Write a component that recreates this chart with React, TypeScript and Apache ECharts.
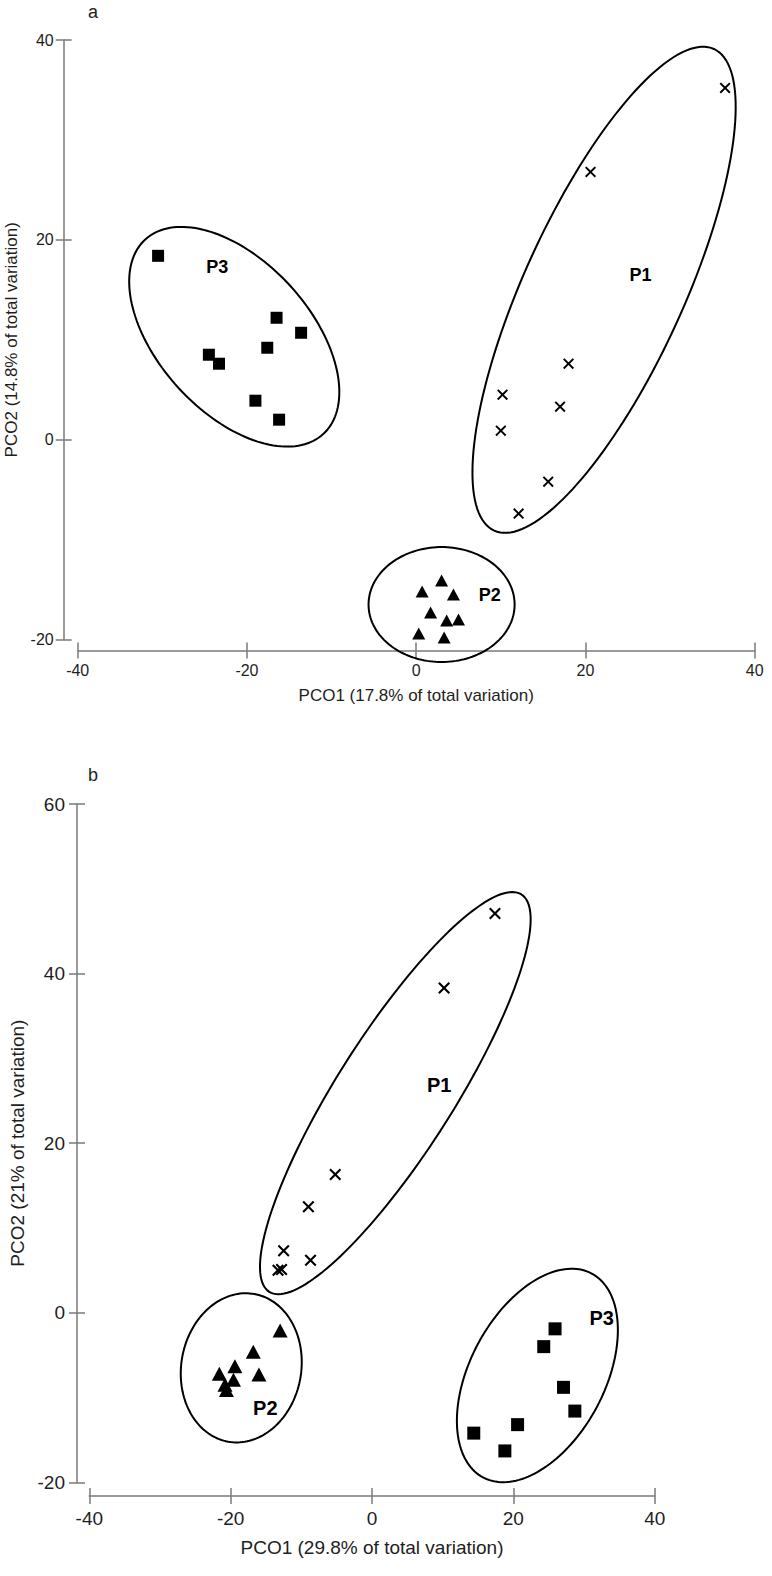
import React, { useEffect, useRef } from "react";
import * as echarts from "echarts";

// ---------- Panel a data ----------
const aCrosses = [[36.5, 35.2], [20.6, 26.8], [18.0, 7.6], [10.2, 4.5], [17.0, 3.3], [10.0, 0.9], [15.6, -4.2], [12.1, -7.4]];
const aTriangles = [[3.0, -14.1], [0.7, -15.2], [4.4, -15.5], [1.7, -17.3], [3.6, -18.1], [5.0, -18.0], [0.3, -19.4], [3.3, -19.8]];
const aSquares = [[-30.5, 18.4], [-16.5, 12.2], [-13.6, 10.7], [-17.6, 9.2], [-24.5, 8.5], [-23.3, 7.6], [-19.0, 3.9], [-16.2, 2.0]];
const groupNames = ["P1", "P2", "P3"];
const aLabelPos = [[26.5, 16.5], [8.7, -15.5], [-23.5, 17.3]];
// ellipse: centre x, centre y, conjugate semi-axis vectors (ux, uy, vx, vy) in data units
const aEllipses = [
  [22.2, 15.0, 12.98, 24.1, 8.57, -3.31],
  [3.0, -16.5, 8.63, 0, 0, -5.75],
  [-21.5, 10.3, 10.51, -9.74, -6.61, -5.1],
];
const aXTicks = [-40, 40, 20];
const aYTicks = [-20, 40, 20];

// ---------- Panel b data ----------
const bCrosses = [[17.4, 47.1], [10.2, 38.3], [-5.2, 16.3], [-9.0, 12.5], [-12.5, 7.3], [-8.7, 6.2], [-13.3, 5.0], [-12.8, 5.1]];
const bTriangles = [[-13.0, -2.1], [-16.8, -4.6], [-19.4, -6.3], [-16.0, -7.3], [-21.6, -7.2], [-19.6, -7.9], [-20.8, -8.5], [-20.6, -9.1]];
const bSquares = [[25.9, -1.9], [24.3, -4.0], [27.1, -8.8], [28.7, -11.6], [20.6, -13.2], [14.4, -14.2], [18.8, -16.3]];
const bLabelPos = [[9.5, 26.9], [-15.1, -11.2], [32.5, -0.6]];
const bEllipses = [
  [3.3, 25.9, 17.84, 23.43, 6.96, -3.68],
  [-18.5, -6.5, 1.84, 8.71, 8.36, -1.23],
  [23.4, -7.4, 7.69, 12.02, 8.4, -3.74],
];
const bXTicks = [-40, 40, 20];
const bYTicks = [-20, 60, 20];

const FONT = "'Liberation Sans', Arial, sans-serif";
const AXIS_COLOR = "#7a7a7a";
const TEXT_COLOR = "#1e1e1e";
const CROSS = "path://M1.5,0L6,4.5L10.5,0L12,1.5L7.5,6L12,10.5L10.5,12L6,7.5L1.5,12L0,10.5L4.5,6L0,1.5Z";

function axisPair(dim: "x" | "y", gridIndex: number, ticks: number[], offset: number, fontSize: number, margin: number, name: string, nameGap: number, nameSize: number) {
  const base: any = {
    type: "value",
    gridIndex,
    position: dim === "x" ? "bottom" : "left",
    min: ticks[0],
    max: ticks[1],
    interval: ticks[2],
    offset,
    splitLine: { show: false },
  };
  const main = {
    ...base,
    axisLine: { show: true, onZero: false, lineStyle: { color: AXIS_COLOR, width: 1.5 } },
    axisTick: { show: true, inside: false, length: 8, lineStyle: { color: AXIS_COLOR, width: 1.5 } },
    axisLabel: { show: true, fontSize, color: TEXT_COLOR, margin, fontFamily: FONT },
    name,
    nameLocation: "middle",
    nameGap,
    nameTextStyle: { fontSize: nameSize, color: TEXT_COLOR, fontFamily: FONT },
  };
  const inner = {
    ...base,
    axisLine: { show: false, onZero: false },
    axisTick: { show: true, inside: true, length: 8, lineStyle: { color: AXIS_COLOR, width: 1.5 } },
    axisLabel: { show: false },
  };
  return [main, inner];
}

function ellipseSeries(data: number[][], axisIdx: number) {
  return {
    type: "custom",
    xAxisIndex: axisIdx,
    yAxisIndex: axisIdx,
    clip: false,
    silent: true,
    z: 1,
    data,
    renderItem: (params: any, api: any) => {
      const cx = api.value(0), cy = api.value(1);
      const ux = api.value(2), uy = api.value(3), vx = api.value(4), vy = api.value(5);
      const pts: number[][] = [];
      for (let i = 0; i < 160; i++) {
        const t = (i / 160) * Math.PI * 2;
        pts.push(api.coord([cx + Math.cos(t) * ux + Math.sin(t) * vx, cy + Math.cos(t) * uy + Math.sin(t) * vy]));
      }
      return { type: "polygon", shape: { points: pts }, style: { fill: "none", stroke: "#000", lineWidth: 2 } };
    },
  };
}

function markerSeries(name: string, data: number[][], axisIdx: number, symbol: string, size: any) {
  return {
    type: "scatter",
    name,
    xAxisIndex: axisIdx,
    yAxisIndex: axisIdx,
    data,
    symbol,
    symbolSize: size,
    itemStyle: { color: "#000", opacity: 1 },
    z: 3,
  };
}

function labelSeries(pos: number[][], axisIdx: number, fontSize: number) {
  return {
    type: "scatter",
    xAxisIndex: axisIdx,
    yAxisIndex: axisIdx,
    symbolSize: 0,
    silent: true,
    itemStyle: { opacity: 1 },
    data: pos.map((p, i) => ({ value: p, name: groupNames[i] })),
    label: {
      show: true,
      position: "inside",
      formatter: (p: any) => p.name,
      fontSize,
      fontWeight: "bold",
      color: "#000",
      opacity: 1,
      fontFamily: FONT,
    },
    z: 4,
  };
}

export default function App() {
  const ref = useRef<HTMLDivElement>(null);
  useEffect(() => {
    if (!ref.current) return;
    const chart = echarts.init(ref.current, undefined, { renderer: "svg" });
    const [ax0, ax1] = axisPair("x", 0, aXTicks, 11, 16, 12, "PCO1 (17.8% of total variation)", 36, 17);
    const [ay0, ay1] = axisPair("y", 0, aYTicks, 14, 16, 10, "PCO2 (14.8% of total variation)", 42, 17);
    const [bx0, bx1] = axisPair("x", 1, bXTicks, 13.7, 19, 13, "PCO1 (29.8% of total variation)", 41.5, 19);
    const [by0, by1] = axisPair("y", 1, bYTicks, 12.3, 19, 12, "PCO2 (21% of total variation)", 46, 19);
    chart.setOption({
      animation: false,
      backgroundColor: "#fff",
      grid: [
        { left: 77.7, top: 40, width: 677, height: 599.5, containLabel: false, outerBoundsMode: "none" },
        { left: 89.3, top: 804, width: 565.4, height: 678.3, containLabel: false, outerBoundsMode: "none" },
      ],
      xAxis: [ax0, ax1, bx0, bx1],
      yAxis: [ay0, ay1, by0, by1],
      graphic: [
        { type: "text", left: 88, top: 3, style: { text: "a", fontSize: 18, fill: TEXT_COLOR, fontFamily: FONT } },
        { type: "text", left: 88, top: 766, style: { text: "b", fontSize: 18, fill: TEXT_COLOR, fontFamily: FONT } },
      ],
      series: [
        ellipseSeries(aEllipses, 0),
        markerSeries("P1", aCrosses, 0, CROSS, 11),
        markerSeries("P2", aTriangles, 0, "triangle", [13, 12]),
        markerSeries("P3", aSquares, 0, "rect", 12),
        labelSeries(aLabelPos, 0, 18),
        ellipseSeries(bEllipses, 2),
        markerSeries("P1", bCrosses, 2, CROSS, 12),
        markerSeries("P2", bTriangles, 2, "triangle", [15, 14]),
        markerSeries("P3", bSquares, 2, "rect", 13),
        labelSeries(bLabelPos, 2, 20),
      ],
    });
    return () => chart.dispose();
  }, []);
  return (
    <div
      ref={ref}
      style={{ position: "absolute", left: 0, top: 0, width: 772, height: 1576, background: "#fff" }}
    />
  );
}
